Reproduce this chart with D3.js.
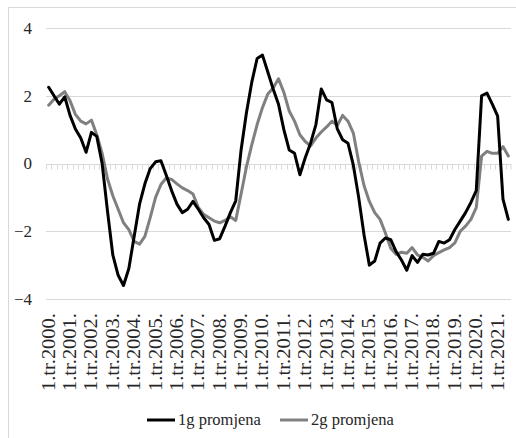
<!DOCTYPE html>
<html>
<head>
<meta charset="utf-8">
<script src="https://cdn.jsdelivr.net/npm/d3@7"></script>
<style>
  body { margin: 0; background: #fff; }
  svg { display: block; }
</style>
</head>
<body>
<div id="chart"></div>
<script>
// kvartali 1.tr.2000. - 3.tr.2021.
const quarters = d3.range(2000, 2022)
  .flatMap(y => [1, 2, 3, 4].map(q => `${q}.tr.${y}.`))
  .slice(0, 87)

const yTicks = [-4, -2, 0, 2, 4]
const seriesNames = ['1g promjena', '2g promjena']
const seriesColors = ['#000000', '#808080']

const g1 = [
  2.25, 2.0, 1.75, 1.97, 1.42, 1.02, 0.75, 0.33, 0.92, 0.8,
  0.0, -1.4, -2.7, -3.3, -3.6, -3.1, -2.15, -1.2, -0.6, -0.15,
  0.05, 0.08, -0.35, -0.8, -1.2, -1.45, -1.35, -1.12, -1.35, -1.6,
  -1.8, -2.27, -2.22, -1.85, -1.45, -1.1, 0.4, 1.5, 2.4, 3.1,
  3.2, 2.7, 2.2, 1.75, 1.0, 0.4, 0.3, -0.33, 0.17, 0.6,
  1.15, 2.2, 1.88, 1.8, 1.02, 0.7, 0.6, -0.05, -1.0, -2.1,
  -3.0, -2.88, -2.35, -2.2, -2.25, -2.6, -2.85, -3.15, -2.72, -2.92,
  -2.68, -2.7, -2.65, -2.3, -2.35, -2.25, -1.95, -1.7, -1.45, -1.15,
  -0.8, 2.0, 2.08, 1.75, 1.4, -1.05, -1.65
]

const g2 = [
  1.72, 1.9, 2.0, 2.12, 1.85, 1.45, 1.25, 1.17, 1.28, 0.85,
  0.3, -0.45, -0.95, -1.35, -1.75, -1.95, -2.3, -2.38, -2.15, -1.6,
  -1.0, -0.62, -0.43, -0.47, -0.6, -0.72, -0.8, -0.9, -1.3, -1.5,
  -1.6, -1.7, -1.75, -1.68, -1.57, -1.68, -0.9, -0.1, 0.55, 1.15,
  1.65, 2.05, 2.23, 2.5, 2.1, 1.55, 1.25, 0.85, 0.65, 0.52,
  0.75, 0.93, 1.08, 1.25, 1.12, 1.42, 1.25, 0.9, 0.05, -0.65,
  -1.12, -1.45, -1.65, -2.05, -2.5, -2.68, -2.62, -2.65, -2.48, -2.7,
  -2.77, -2.88, -2.72, -2.63, -2.55, -2.48, -2.34, -2.0, -1.85, -1.65,
  -1.3, 0.22, 0.36, 0.3, 0.3, 0.5, 0.22
]

const FONT = "'Liberation Serif', 'DejaVu Serif', 'Noto Serif', serif"
const TEXT_COLOR = '#262626'

const width = 516
const height = 438
const margin = { top: 28, right: 5, bottom: 139, left: 46 }
const innerW = width - margin.left - margin.right
const innerH = height - margin.top - margin.bottom

const svg = d3.select('#chart')
  .append('svg')
  .attr('width', width)
  .attr('height', height)

// okvir grafikona
svg.append('rect')
  .attr('x', 8.5)
  .attr('y', 7.5)
  .attr('width', 540)
  .attr('height', 460)
  .attr('fill', 'none')
  .attr('stroke', '#d9d9d9')

const g = svg.append('g')
  .attr('transform', `translate(${margin.left}, ${margin.top})`)

const x = d3.scaleBand().domain(quarters).range([0, innerW]).padding(0)
const y = d3.scaleLinear().domain([-4, 4]).range([innerH, 0])

// mreža
g.append('g')
  .selectAll('line')
  .data(yTicks)
  .join('line')
  .attr('x1', 0)
  .attr('x2', innerW)
  .attr('y1', d => Math.round(y(d)) + 0.5)
  .attr('y2', d => Math.round(y(d)) + 0.5)
  .attr('stroke', '#d9d9d9')
  .attr('stroke-width', 1)

// y os
const yAxis = g.append('g')
  .attr('class', 'y axis')
  .call(d3.axisLeft(y).tickValues(yTicks).tickSize(0).tickPadding(14))
yAxis.select('.domain').remove()
yAxis.attr('font-family', FONT)
yAxis.selectAll('text')
  .attr('font-family', FONT)
  .style('font-size', '17px')
  .attr('fill', TEXT_COLOR)

// crtice na nultoj liniji
const y0 = Math.round(y(0)) + 0.5
g.append('g')
  .selectAll('line')
  .data(quarters.concat(['end']))
  .join('line')
  .attr('x1', d => d === 'end' ? innerW : Math.round(x(d)) + 0.5)
  .attr('x2', d => d === 'end' ? innerW : Math.round(x(d)) + 0.5)
  .attr('y1', y0)
  .attr('y2', y0 + 5)
  .attr('stroke', '#d9d9d9')

// x os (oznake okrenute)
const xAxis = g.append('g')
  .attr('class', 'x axis')
  .attr('transform', `translate(0, ${innerH})`)
  .call(d3.axisBottom(x)
    .tickValues(quarters.filter(d => d.startsWith('1.')))
    .tickSize(0))
xAxis.select('.domain').remove()
xAxis.selectAll('line').remove()
xAxis.attr('font-family', FONT)
xAxis.selectAll('text')
  .attr('transform', 'rotate(-90)')
  .attr('text-anchor', 'end')
  .attr('x', -14)
  .attr('y', 0)
  .attr('dy', '0.33em')
  .attr('textLength', 78)
  .attr('lengthAdjust', 'spacingAndGlyphs')
  .attr('font-family', FONT)
  .style('font-size', '18px')
  .attr('fill', TEXT_COLOR)

// linije
const line = d3.line()
  .x((d, i) => x(quarters[i]) + x.bandwidth() / 2)
  .y(d => y(d))

;[g1, g2].slice().reverse().forEach((s, k) => {
  const idx = 1 - k
  g.append('path')
    .datum(s)
    .attr('fill', 'none')
    .attr('stroke', seriesColors[idx])
    .attr('stroke-width', 3)
    .attr('stroke-linejoin', 'round')
    .attr('stroke-linecap', 'round')
    .attr('d', line)
})

// legenda
const legend = svg.append('g')
  .attr('transform', 'translate(147, 420)')
  .attr('font-family', FONT)
const legendX = [0, 133]
seriesNames.forEach((name, i) => {
  const item = legend.append('g').attr('transform', `translate(${legendX[i]}, 0)`)
  item.append('line')
    .attr('x1', 0).attr('x2', 28)
    .attr('y1', 0).attr('y2', 0)
    .attr('stroke', seriesColors[i])
    .attr('stroke-width', 3)
  item.append('text')
    .attr('x', 31)
    .attr('y', 0)
    .attr('dy', '0.33em')
    .attr('font-family', FONT)
    .style('font-size', '16.5px')
    .attr('fill', TEXT_COLOR)
    .text(name)
})
</script>
</body>
</html>
